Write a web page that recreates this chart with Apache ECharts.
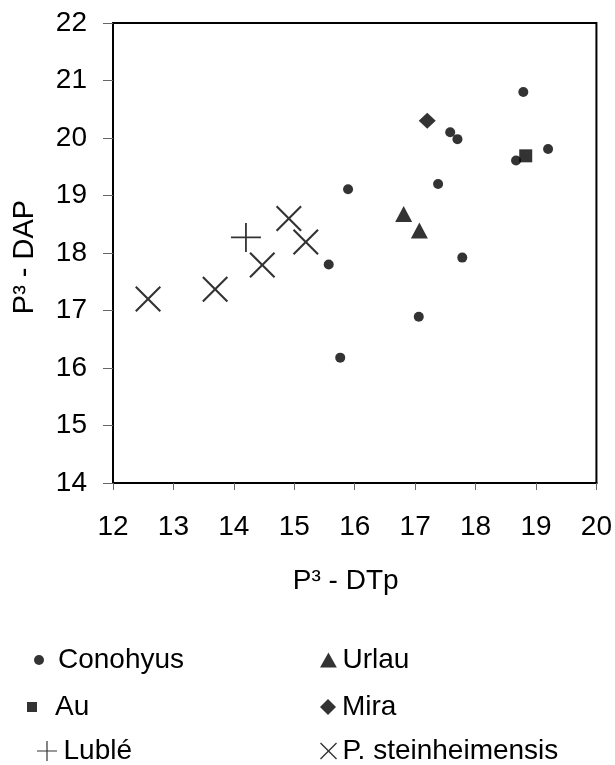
<!DOCTYPE html>
<html>
<head>
<meta charset="utf-8">
<script src="https://cdn.jsdelivr.net/npm/echarts@6/dist/echarts.min.js"></script>
<style>
html,body{margin:0;padding:0;background:#fff;}
#chart{width:615px;height:765px;}
</style>
</head>
<body>
<div id="chart"></div>
<script>
// ---- data ----
const conohyusX = [18.79, 17.58, 17.70, 19.20, 18.67, 17.38, 15.89, 15.57, 17.78, 17.06, 15.76];
const conohyusY = [20.80, 20.10, 19.98, 19.81, 19.61, 19.20, 19.11, 17.80, 17.92, 16.89, 16.18];
const auX = [18.83];
const auY = [19.69];
const miraX = [17.20];
const miraY = [20.30];
const urlauX = [16.81, 17.07];
const urlauY = [18.68, 18.39];
const lubleX = [14.20];
const lubleY = [18.27];
const steinX = [12.58, 13.69, 14.47, 14.91, 15.19];
const steinY = [17.20, 17.37, 17.79, 18.60, 18.19];
const xTicks = [12, 13, 14, 15, 16, 17, 18, 19, 20];
const yTicks = [14, 15, 16, 17, 18, 19, 20, 21, 22];
const xTitle = 'P³ - DTp';
const yTitle = 'P³ - DAP';

// ---- symbols ----
const SQUARE = 'path://M0,0 L10,0 L10,10 L0,10 Z';
const TRI = 'path://M9,0 L18,16 L0,16 Z';
const DIAMOND = 'path://M8,0 L16,8 L8,16 L0,8 Z';
const PLUS = 'path://M0,14.1 L14.1,14.1 L14.1,0 L15.9,0 L15.9,14.1 L30,14.1 L30,15.9 L15.9,15.9 L15.9,30 L14.1,30 L14.1,15.9 L0,15.9 Z';
const CROSS = 'path://M0,1.5 L1.5,0 L13,11.5 L24.5,0 L26,1.5 L14.5,13 L26,24.5 L24.5,26 L13,14.5 L1.5,26 L0,24.5 L11.5,13 Z';

const pairs = (xs, ys) => xs.map((x, i) => [x, ys[i]]);
const FONT = '"Liberation Sans", Arial, Helvetica, sans-serif';

function leg(name, icon, left, center, w, h) {
  return {
    data: [{ name: name, icon: icon }],
    left: left, top: center - 15,
    padding: 0,
    itemWidth: w, itemHeight: h,
    itemGap: 0,
    selectedMode: false,
    textStyle: { fontFamily: FONT, fontSize: 28, color: '#000', lineHeight: 30, padding: 0 },
    itemStyle: { color: '#000' }
  };
}

const chart = echarts.init(document.getElementById('chart'), null, { renderer: 'canvas' });
const option = {
  backgroundColor: '#fff',
  animation: false,
  grid: {
    left: 113, right: 18, top: 23, bottom: 282,
    show: true, borderColor: '#000', borderWidth: 2, backgroundColor: 'transparent'
  },
  xAxis: {
    type: 'value', min: xTicks[0], max: xTicks[xTicks.length - 1], interval: 1,
    name: xTitle, nameLocation: 'middle', nameGap: 84,
    nameTextStyle: { fontFamily: FONT, fontSize: 28, color: '#000', padding: [0, 18, 0, 0] },
    axisLine: { show: true, onZero: false, lineStyle: { color: '#000', width: 2 } },
    axisTick: { show: true, inside: false, length: 7, lineStyle: { color: '#666', width: 1 } },
    axisLabel: { fontFamily: FONT, fontSize: 28, color: '#000', margin: 30 },
    splitLine: { show: false }
  },
  yAxis: {
    type: 'value', min: yTicks[0], max: yTicks[yTicks.length - 1], interval: 1,
    name: yTitle, nameLocation: 'middle', nameGap: 74, nameRotate: 90,
    nameTextStyle: { fontFamily: FONT, fontSize: 29, color: '#000', padding: [0, 8, 0, 0] },
    axisLine: { show: true, onZero: false, lineStyle: { color: '#000', width: 2 } },
    axisTick: { show: true, inside: false, length: 10, lineStyle: { color: '#666', width: 1 } },
    axisLabel: { fontFamily: FONT, fontSize: 28, color: '#000', margin: 26 },
    splitLine: { show: false }
  },
  legend: [
    leg('Conohyus', 'circle', 34, 660, 28, 10),
    leg('Au', SQUARE, 27, 707, 36, 10),
    leg('Lublé', PLUS, 37, 751, 23, 20),
    leg('Urlau', TRI, 320, 660, 18, 15),
    leg('Mira', DIAMOND, 320, 707, 18, 16),
    leg('P. steinheimensis', CROSS, 320, 751, 18, 17)
  ],
  series: [
    { name: 'Conohyus', type: 'scatter', symbol: 'circle', symbolSize: 10, itemStyle: { color: '#000' }, data: pairs(conohyusX, conohyusY) },
    { name: 'Au', type: 'scatter', symbol: SQUARE, symbolSize: 13, itemStyle: { color: '#000' }, data: pairs(auX, auY) },
    { name: 'Lublé', type: 'scatter', symbol: PLUS, symbolSize: [30, 29], itemStyle: { color: '#000' }, data: pairs(lubleX, lubleY) },
    { name: 'Urlau', type: 'scatter', symbol: TRI, symbolSize: [17, 16], itemStyle: { color: '#000' }, data: pairs(urlauX, urlauY) },
    { name: 'Mira', type: 'scatter', symbol: DIAMOND, symbolSize: [17, 16], itemStyle: { color: '#000' }, data: pairs(miraX, miraY) },
    { name: 'P. steinheimensis', type: 'scatter', symbol: CROSS, symbolSize: 26, itemStyle: { color: '#000' }, data: pairs(steinX, steinY) }
  ]
};
chart.setOption(option);
</script>
</body>
</html>
